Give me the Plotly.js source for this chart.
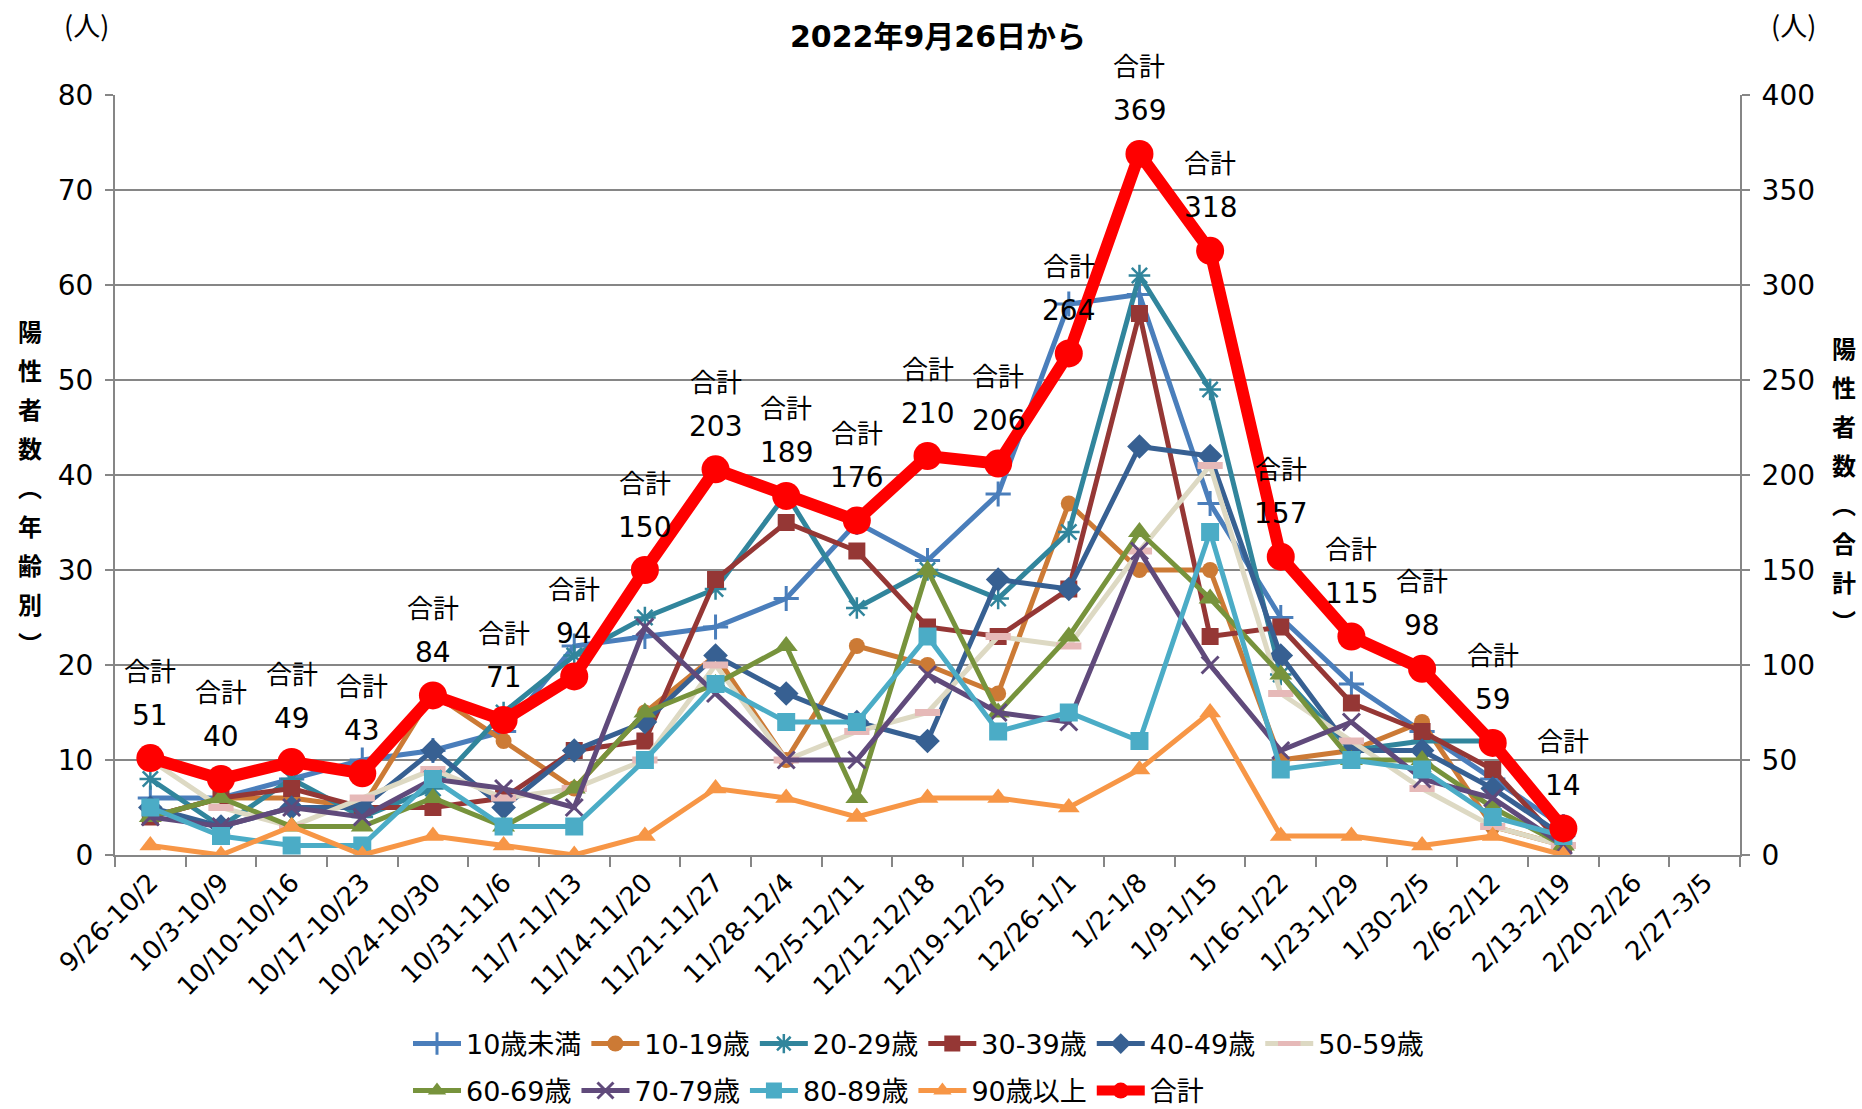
<!DOCTYPE html>
<html><head><meta charset="utf-8">
<script src="https://cdn.plot.ly/plotly-3.0.1.min.js"></script>
<style>html,body{margin:0;padding:0;background:#fff}#chart{width:1862px;height:1109px}</style>
</head><body><div id="chart"></div>
<script>
const categories = ['9/26-10/2','10/3-10/9','10/10-10/16','10/17-10/23','10/24-10/30','10/31-11/6','11/7-11/13','11/14-11/20','11/21-11/27','11/28-12/4','12/5-12/11','12/12-12/18','12/19-12/25','12/26-1/1','1/2-1/8','1/9-1/15','1/16-1/22','1/23-1/29','1/30-2/5','2/6-2/12','2/13-2/19','2/20-2/26','2/27-3/5'];
const under10 = [6,6,8,10,11,13,22,23,24,27,35,31,38,58,59,37,25,18,13,8,3];
const age10s  = [4,6,6,5,17,12,7,15,21,10,22,20,17,37,30,30,10,11,14,3,1];
const age20s  = [8,3,8,4,7,15,21,25,28,38,26,30,27,34,61,49,19,11,12,12,2];
const age30s  = [4,6,7,5,5,6,11,12,29,35,32,24,23,28,57,23,24,16,13,9,1];
const age40s  = [5,3,5,5,11,5,11,14,21,17,14,12,29,28,43,42,21,11,11,7,2];
const age50s  = [10,5,3,6,9,6,7,10,20,10,13,15,23,22,32,41,17,12,7,3,1];
const age60s  = [4,6,3,3,6,3,7,15,18,22,6,30,15,23,34,27,19,10,10,5,1];
const age70s  = [4,3,5,4,8,7,5,24,17,10,10,19,15,14,32,20,11,14,8,6,1];
const age80s  = [5,2,1,1,8,3,3,10,18,14,14,23,13,15,12,34,9,10,9,4,2];
const over90  = [1,0,3,0,2,1,0,2,7,6,4,6,6,5,9,15,2,2,1,2,0];
const total   = [51,40,49,43,84,71,94,150,203,189,176,210,206,264,369,318,157,115,98,59,14];
const seriesNames = ['10歳未満','10-19歳','20-29歳','30-39歳','40-49歳','50-59歳','60-69歳','70-79歳','80-89歳','90歳以上','合計'];
const titleText = '2022年9月26日から';
const leftTitle = ['陽','性','者','数','︵','年','齢','別','︶'];
const rightTitle = ['陽','性','者','数','︵','合','計','︶'];
const unitText = '(人)';
const totalLabel = '合計';

const FONT = '"DejaVu Sans", "Noto Sans CJK JP", sans-serif';
const CJK = '"Noto Sans CJK JP", sans-serif';
const xs = categories.slice(0, total.length);

const styles = [
  {c:'#4A7EBB', sym:'cross-thin', size:18, lw:3},
  {c:'#CC7A35', sym:'circle', size:16},
  {c:'#31859C', sym:'asterisk', size:18, lw:2.5},
  {c:'#953735', sym:'square', size:17},
  {c:'#376092', sym:'diamond', size:19},
  {c:'#DDD9C3', sym:'line-ew', size:18, lw:7, lc:'#E6B9B8'},
  {c:'#77933C', sym:'triangle-up', size:20},
  {c:'#604A7B', sym:'x-thin', size:17, lw:3},
  {c:'#4BACC6', sym:'square', size:18},
  {c:'#F79646', sym:'triangle-up', size:19}
];
const ageData = [under10, age10s, age20s, age30s, age40s, age50s, age60s, age70s, age80s, over90];

const traces = ageData.map((d, k) => {
  const s = styles[k];
  return {
    type:'scatter', mode:'lines+markers', x: xs, y: d, name: seriesNames[k],
    line:{color:s.c, width:5},
    marker:{symbol:s.sym, size:s.size, color:s.c, line:{color: s.lc || s.c, width: s.lw || 0}},
    legend: k < 6 ? 'legend' : 'legend2'
  };
});
traces.push({
  type:'scatter', mode:'lines+markers', x: xs, y: total, name: seriesNames[10], yaxis:'y2',
  line:{color:'#FF0000', width:12}, marker:{symbol:'circle', size:28, color:'#FF0000'},
  legend:'legend2'
});

const annotations = [];
xs.forEach((c, i) => {
  annotations.push({x:c, y:total[i], xref:'x', yref:'y2', text:String(total[i]), showarrow:false, yshift:43, font:{size:28, family:FONT, color:'#000'}});
  annotations.push({x:c, y:total[i], xref:'x', yref:'y2', text:totalLabel, showarrow:false, yshift:89, font:{size:26, family:CJK, color:'#000'}});
});
function px2paperX(px){ return (px-115)/1625; }
function px2paperY(py){ return (855-py)/760; }
function stackText(chars){ return chars.map(ch => '<span style="font-size:24px">' + ch + '</span>').join('<br>'); }
annotations.push({xref:'paper', yref:'paper', x:px2paperX(30), y:px2paperY(486), text:stackText(leftTitle), showarrow:false,
  xanchor:'center', yanchor:'middle', align:'center', font:{size:30, family:CJK, color:'#000', weight:'bold'}});
annotations.push({xref:'paper', yref:'paper', x:px2paperX(1844), y:px2paperY(484), text:stackText(rightTitle), showarrow:false,
  xanchor:'center', yanchor:'middle', align:'center', font:{size:30, family:CJK, color:'#000', weight:'bold'}});
annotations.push({xref:'paper', yref:'paper', x:px2paperX(86), y:px2paperY(24), text:unitText, showarrow:false, xanchor:'center', yanchor:'middle', font:{size:27, family:CJK, color:'#000'}});
annotations.push({xref:'paper', yref:'paper', x:px2paperX(1793), y:px2paperY(24), text:unitText, showarrow:false, xanchor:'center', yanchor:'middle', font:{size:27, family:CJK, color:'#000'}});

const gridC = '#868686';
const legendBase = {orientation:'h', xanchor:'left', yanchor:'middle', font:{size:27, family:FONT}, bgcolor:'rgba(0,0,0,0)', traceorder:'normal', itemwidth:48};
const layout = {
  width:1862, height:1109,
  margin:{l:115, r:122, t:95, b:254, autoexpand:false},
  paper_bgcolor:'#fff', plot_bgcolor:'#fff',
  font:{family:FONT, color:'#000'},
  title:{text:titleText, x:938/1862, xanchor:'center', y:1-36/1109, yanchor:'middle', yref:'container', font:{size:30, family:FONT, weight:'bold', color:'#000'}},
  xaxis:{type:'category', categoryorder:'array', categoryarray:categories, range:[-0.5, categories.length-0.5],
    tickangle:-45, tickson:'boundaries', ticks:'outside', ticklen:10, tickcolor:gridC, tickwidth:2,
    showline:true, linecolor:gridC, linewidth:2, showgrid:false, tickfont:{size:26, family:FONT}, automargin:false},
  yaxis:{range:[0,80], dtick:10, showgrid:true, gridcolor:gridC, gridwidth:2, zeroline:false,
    showline:true, linecolor:gridC, linewidth:2, ticks:'outside', ticklen:8, tickcolor:gridC, tickwidth:2,
    tickfont:{size:28, family:FONT}, ticklabelstandoff:6, automargin:false},
  yaxis2:{range:[0,400], dtick:50, overlaying:'y', side:'right', showgrid:false, zeroline:false,
    showline:true, linecolor:gridC, linewidth:2, ticks:'outside', ticklen:8, tickcolor:gridC, tickwidth:2,
    tickfont:{size:28, family:FONT}, ticklabelstandoff:6, automargin:false},
  legend:Object.assign({}, legendBase, {x:px2paperX(408), y:px2paperY(1044)}),
  legend2:Object.assign({}, legendBase, {x:px2paperX(408), y:px2paperY(1091)}),
  annotations: annotations,
  showlegend:true
};
Plotly.newPlot('chart', traces, layout, {staticPlot:true});
</script></body></html>
